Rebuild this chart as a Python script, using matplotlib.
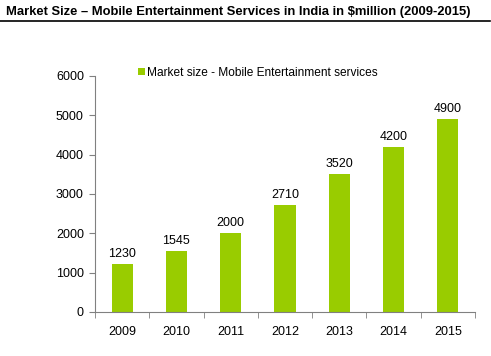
import matplotlib
matplotlib.use("Agg")
import matplotlib.pyplot as plt
import numpy as np

years = ["2009", "2010", "2011", "2012", "2013", "2014", "2015"]
market_size = [1230, 1545, 2000, 2710, 3520, 4200, 4900]

plt.rcParams["font.family"] = ["Liberation Sans", "DejaVu Sans"]

fig = plt.figure(figsize=(4.91, 3.56), dpi=100)
fig.text(0.012, 0.965, "Market Size \u2013 Mobile Entertainment Services in India in $million (2009-2015)",
         fontsize=9.4, fontweight="bold", va="center", ha="left")
fig.add_artist(plt.Line2D([0.0, 0.998], [0.94, 0.94], color="black", lw=1.2))

ax = fig.add_axes([95 / 491, 1 - 312 / 356, 380 / 491, 236 / 356])
x = np.arange(len(years))
ax.bar(x, market_size, width=0.39, color="#99CC00",
       label="Market size - Mobile Entertainment services")
for xi, v in zip(x, market_size):
    ax.text(xi, v + 100, str(v), ha="center", va="bottom", fontsize=9)

ax.set_xlim(-0.5, len(years) - 0.5)
ax.set_ylim(0, 6000)
ax.set_yticks(range(0, 6001, 1000))
ax.set_xticks(x)
ax.set_xticklabels(years, fontsize=9)
ax.set_xticks(np.arange(-0.5, len(years)), minor=True)
ax.tick_params(axis="x", which="major", length=0, pad=10)
ax.tick_params(axis="x", which="minor", length=4, color="#808080", direction="out")
ax.tick_params(axis="y", length=4, color="#808080", direction="out", labelsize=9, pad=4)
for s in ["top", "right"]:
    ax.spines[s].set_visible(False)
for s in ["left", "bottom"]:
    ax.spines[s].set_color("#808080")

ax.legend(loc="upper left", bbox_to_anchor=(0.1, 1.06), frameon=False, fontsize=8.6,
          handlelength=0.6, handleheight=0.6, handletextpad=0.2, borderaxespad=0)

fig.savefig("out.png", dpi=100)
